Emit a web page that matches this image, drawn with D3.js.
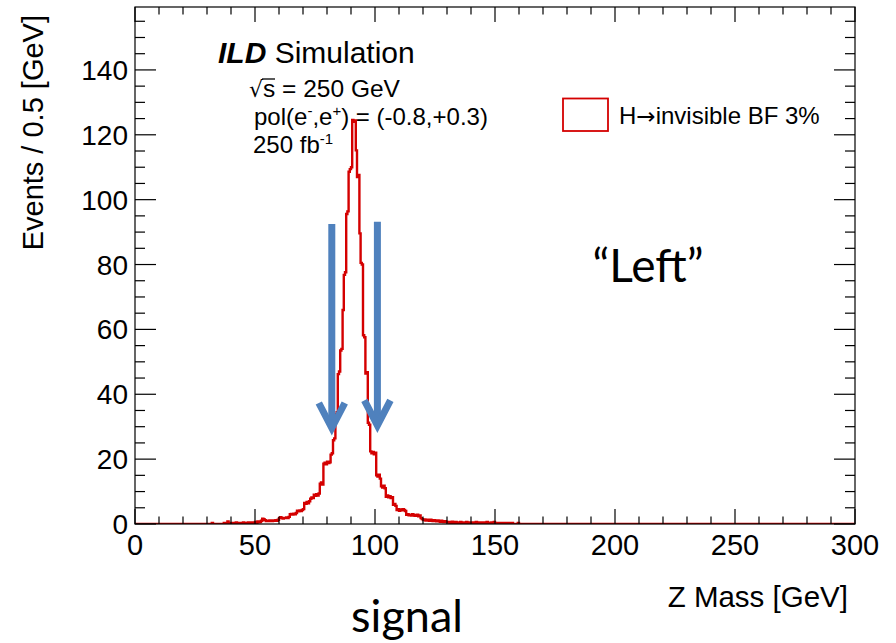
<!DOCTYPE html>
<html>
<head>
<meta charset="utf-8">
<script src="https://cdn.jsdelivr.net/npm/d3@7"></script>
<style>
  body { margin: 0; background: #fff; }
  text { font-family: "Liberation Sans", Arial, sans-serif; fill: #000; }
</style>
</head>
<body>
<div id="chart"></div>
<script>
// Z mass histogram, 0.5 GeV bins starting at 30 GeV (empty elsewhere)
const binStart = 30;
const binWidth = 0.5;
const counts = [
  /* 30 */ 0,0,0,0,0.3,0,0,0,0,0, 0,0,0,0,0.3,0,0,0.8,0.3,0,
  /* 40 */ 0,0.3,0.3,0,0.5,0.3,0,0.3,0.3,0, 0.5,0.3,0.3,0,0.5,0.3,0.3,0.5,0.3,0.5,
  /* 50 */ 0.6,0.3,0.8,0.5,0.6,1.0,1.6,1.5,1.2,0.9, 1.0,0.9,1.1,1.0,0.9,1.1,1.0,1.2,1.0,1.3,
  /* 60 */ 1.8,2.1,1.8,1.7,1.9,1.8,2.0,1.8,2.2,3.0, 3.1,2.9,3.2,3.0,3.4,4.1,3.9,4.2,4.0,4.3,
  /* 70 */ 4.6,6.5,6.2,6.8,6.4,7.0,7.8,8.2,8.0,9.0, 8.7,9.2,8.8,9.4,12.4,12.8,12.2,18.6,18.9,18.4,
  /* 80 */ 19.2,18.8,19.0,21.4,21.8,25.8,26.4,33.8,34.5,46.2, 47.0,53.5,54.0,66.0,76.8,77.6,95.6,96.4,108.6,109.4,
  /* 90 */ 110.0,124.6,124.0,124.4,115.2,107.0,107.6,89.6,80.5,80.0, 58.2,57.6,46.4,46.8,31.2,30.6,22.4,21.8,22.2,21.5,
  /* 100 */ 22.0,15.0,14.6,15.2,14.0,11.6,11.2,11.8,11.0,8.4, 8.8,8.2,8.6,8.0,8.3,5.9,6.2,5.6,4.3,4.6,
  /* 110 */ 4.1,4.5,4.2,4.6,4.3,4.0,2.8,3.0,2.7,2.9, 2.6,3.0,2.8,2.5,2.7,2.9,2.4,2.6,1.8,1.5,
  /* 120 */ 1.2,1.4,1.1,1.3,1.2,1.0,1.3,1.1,0.9,1.2, 1.0,0.8,1.1,0.9,0.7,1.0,0.8,0.6,0.9,0.7,
  /* 130 */ 0.5,0.6,0.4,0.5,0.7,0.4,0.5,0.6,0.3,0.5, 0.4,0.6,0.5,0.3,0.5,0.4,0.6,0.3,0.5,0.4,
  /* 140 */ 0.3,0.5,0.4,0.3,0.6,0.3,0.4,0.5,0.3,0.4, 0.5,0.3,0.4,0.6,0.3,0.4,0.3,0.5,0.3,0.6,
  /* 150 */ 0.3,0,0.3,0,0,0.3,0,0.3,0,0, 0.3,0.3,0,0,0.3,0,0,0,0,0.3
];

const xMajor = [0, 50, 100, 150, 200, 250, 300];
const yMajor = [0, 20, 40, 60, 80, 100, 120, 140];
const xDomain = [0, 300];
const yDomain = [0, 159.4];

// mass window cuts (blue arrows)
const cuts = [82, 101];
const arrowTop = [92.5, 93.2];
const arrowTip = [29.6, 30.4];

const width = 896, height = 643;
const margin = {top: 7, right: 41, bottom: 119, left: 135};

const svg = d3.select("#chart").append("svg")
  .attr("width", width)
  .attr("height", height);

const x = d3.scaleLinear().domain(xDomain).range([margin.left, width - margin.right]);
const y = d3.scaleLinear().domain(yDomain).range([height - margin.bottom, margin.top]);

const x0 = x.range()[0], x1 = x.range()[1];
const y0 = y.range()[0], y1 = y.range()[1];

svg.append("clipPath").attr("id", "frame")
  .append("rect")
  .attr("x", x0).attr("y", y1)
  .attr("width", x1 - x0).attr("height", y0 - y1);

// histogram outline
let pts = [[xDomain[0], 0]];
counts.forEach((c, i) => pts.push([binStart + i * binWidth, c]));
pts.push([binStart + counts.length * binWidth, 0]);
pts.push([xDomain[1], 0]);

const line = d3.line()
  .x(d => x(d[0]))
  .y(d => y(d[1]))
  .curve(d3.curveStepAfter);

svg.append("path")
  .datum(pts)
  .attr("clip-path", "url(#frame)")
  .attr("d", line)
  .attr("fill", "none")
  .attr("stroke", "#d40000")
  .attr("stroke-width", 2.4);

// frame
svg.append("rect")
  .attr("x", x0).attr("y", y1)
  .attr("width", x1 - x0).attr("height", y0 - y1)
  .attr("fill", "none")
  .attr("stroke", "#000")
  .attr("stroke-width", 1.2);

// ticks (ROOT style, inside the frame on all four sides)
const xMinor = d3.range(0, 301, 10).filter(v => v % 50 !== 0);
const yMinor = d3.range(0, 160, 5).filter(v => v % 20 !== 0);
const tk = svg.append("g").attr("stroke", "#000").attr("stroke-width", 1.2);

xMajor.concat(xMinor).forEach(v => {
  let len = v % 50 === 0 ? 15 : 7.5;
  tk.append("line").attr("x1", x(v)).attr("x2", x(v)).attr("y1", y0).attr("y2", y0 - len);
  tk.append("line").attr("x1", x(v)).attr("x2", x(v)).attr("y1", y1).attr("y2", y1 + len);
});
yMajor.concat(yMinor).forEach(v => {
  let len = v % 20 === 0 ? 21 : 10;
  tk.append("line").attr("y1", y(v)).attr("y2", y(v)).attr("x1", x0).attr("x2", x0 + len);
  tk.append("line").attr("y1", y(v)).attr("y2", y(v)).attr("x1", x1).attr("x2", x1 - len);
});

// tick labels
svg.append("g").selectAll("text")
  .data(xMajor)
  .enter().append("text")
  .attr("x", d => x(d))
  .attr("y", y0 + 31)
  .attr("text-anchor", "middle")
  .style("font-size", "29px")
  .text(d => d);

svg.append("g").selectAll("text")
  .data(yMajor)
  .enter().append("text")
  .attr("x", x0 - 7)
  .attr("y", d => y(d) + 10)
  .attr("text-anchor", "end")
  .style("font-size", "28px")
  .text(d => d);

// axis titles
svg.append("text")
  .attr("x", 848).attr("y", 607)
  .attr("text-anchor", "end")
  .style("font-size", "29.5px")
  .text("Z Mass [GeV]");

svg.append("text")
  .attr("transform", "translate(43,15) rotate(-90)")
  .attr("text-anchor", "end")
  .style("font-size", "29px")
  .text("Events / 0.5 [GeV]");

// ILD label block
const ild = svg.append("text").attr("x", 218).attr("y", 63).style("font-size", "30px");
ild.append("tspan").style("font-weight", "bold").style("font-style", "italic").text("ILD");
ild.append("tspan").text(" Simulation");

const rs = svg.append("text").attr("x", 249).attr("y", 97).style("font-size", "24.5px");
rs.append("tspan").style("font-family", "'DejaVu Sans', sans-serif").style("font-size", "22px").text("\u221A");
rs.append("tspan").text("s = 250 GeV");
// radical bar over the s
svg.append("line")
  .attr("x1", 262).attr("x2", 275)
  .attr("y1", 79).attr("y2", 79)
  .attr("stroke", "#000").attr("stroke-width", 1.3);

const pol = svg.append("text").attr("x", 254).attr("y", 125).style("font-size", "24px");
pol.append("tspan").text("pol(e");
pol.append("tspan").attr("dy", -9).style("font-size", "15px").text("-");
pol.append("tspan").attr("dy", 9).text(",e");
pol.append("tspan").attr("dy", -9).style("font-size", "15px").text("+");
pol.append("tspan").attr("dy", 9).text(") = (-0.8,+0.3)");

const lumi = svg.append("text").attr("x", 253).attr("y", 153).style("font-size", "24px");
lumi.append("tspan").text("250 fb");
lumi.append("tspan").attr("dy", -9).style("font-size", "15px").text("-1");

// legend
svg.append("rect")
  .attr("x", 563).attr("y", 98.5)
  .attr("width", 45).attr("height", 32.5)
  .attr("fill", "none")
  .attr("stroke", "#d40000")
  .attr("stroke-width", 1.8);
const leg = svg.append("text").attr("x", 619).attr("y", 123.5).style("font-size", "24px");
leg.append("tspan").text("H");
leg.append("tspan").style("font-family", "'DejaVu Sans', sans-serif").style("font-size", "23px").text("\u2192");
leg.append("tspan").text("invisible BF 3%");

// blue cut arrows
const ar = svg.append("g")
  .attr("stroke", "#4f81bd")
  .attr("stroke-width", 7)
  .attr("fill", "none");
cuts.forEach((c, i) => {
  let cx = x(c), top = y(arrowTop[i]), tip = y(arrowTip[i]);
  ar.append("line").attr("x1", cx).attr("x2", cx).attr("y1", top).attr("y2", tip - 3);
  ar.append("path")
    .attr("stroke-linejoin", "miter")
    .attr("d", `M${cx - 13},${tip - 25} L${cx},${tip} L${cx + 13},${tip - 25}`);
});

// slide annotations
svg.append("text").attr("x", 648).attr("y", 282)
  .attr("text-anchor", "middle")
  .style("font-family", "Lato, 'Open Sans', sans-serif")
  .style("font-size", "46px")
  .text("\u201CLeft\u201D");

svg.append("text").attr("x", 407).attr("y", 632)
  .attr("text-anchor", "middle")
  .style("font-family", "Lato, 'Open Sans', sans-serif")
  .style("font-size", "45px")
  .text("signal");
</script>
</body>
</html>
